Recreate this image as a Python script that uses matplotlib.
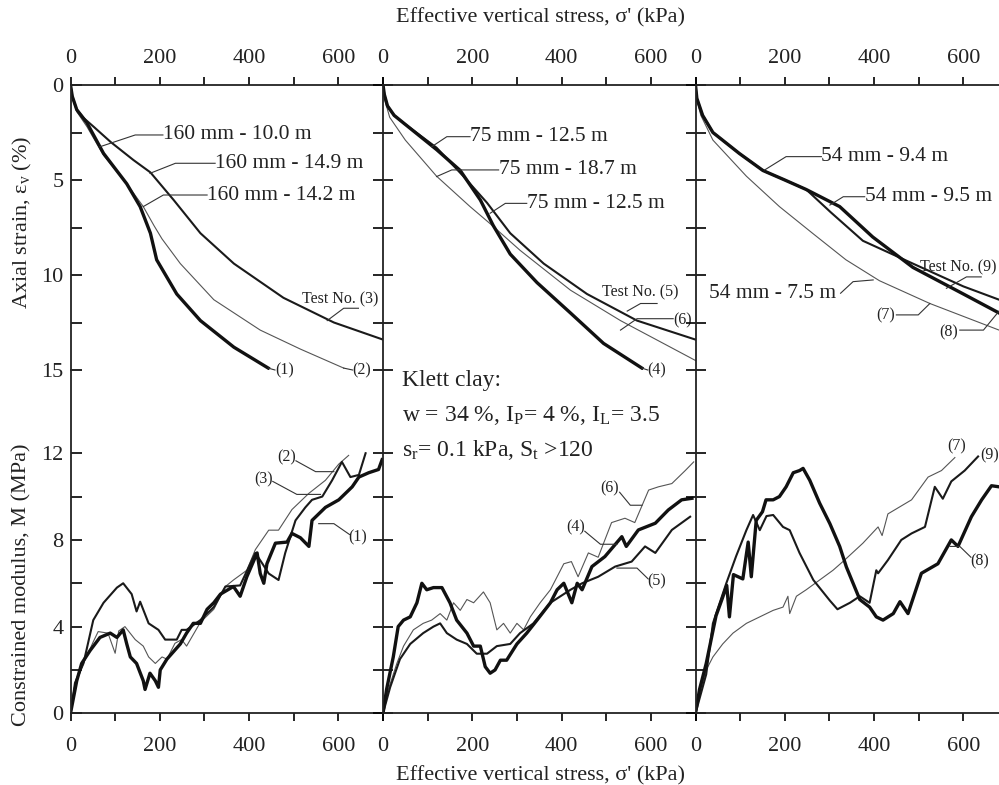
"""Axial strain and constrained modulus vs effective vertical stress (Klett clay)."""

import matplotlib
matplotlib.use("Agg")
import matplotlib.pyplot as plt
from matplotlib.ticker import MultipleLocator

plt.rcParams["font.family"] = ["Liberation Serif", "DejaVu Serif"]
plt.rcParams["mathtext.fontset"] = "custom"
plt.rcParams["mathtext.rm"] = "Liberation Serif"
plt.rcParams["mathtext.it"] = "Liberation Serif:italic"

# ---- strain curves (sigma' kPa, axial strain %) ----
s1 = [0, 4, 14, 37, 74, 126, 156, 179, 193, 238, 291, 366, 443]
e1 = [0, 0.6, 1.3, 2.0, 3.6, 5.2, 6.4, 7.8, 9.2, 11.0, 12.4, 13.8, 14.9]
s2 = [0, 4, 14, 37, 74, 126, 163, 187, 205, 246, 321, 425, 515, 612]
e2 = [0, 0.6, 1.4, 2.2, 3.7, 5.2, 6.4, 7.4, 8.1, 9.4, 11.3, 12.9, 13.9, 14.9]
s3 = [0, 4, 14, 30, 52, 90, 141, 179, 231, 291, 366, 477, 590, 700]
e3 = [0, 0.6, 1.3, 1.75, 2.2, 3.0, 3.95, 4.6, 6.05, 7.8, 9.4, 11.2, 12.5, 13.4]

s4 = [0, 3, 10, 25, 46, 120, 173, 218, 247, 285, 345, 420, 494, 580]
e4 = [0, 0.5, 1.1, 1.6, 2.0, 3.4, 4.5, 6.05, 7.4, 8.9, 10.4, 12.0, 13.6, 14.9]
s5 = [0, 3, 10, 25, 46, 120, 180, 233, 285, 360, 457, 569, 700]
e5 = [0, 0.5, 1.1, 1.6, 2.0, 3.3, 4.8, 6.2, 7.8, 9.4, 11.0, 12.4, 13.4]
s6 = [0, 4, 15, 50, 120, 195, 240, 307, 420, 532, 644, 700]
e6 = [0, 0.8, 1.7, 2.9, 4.8, 6.4, 7.3, 8.7, 10.8, 12.4, 13.8, 14.5]

s7 = [0, 3, 12, 39, 114, 188, 262, 337, 412, 525, 680]
e7 = [0, 0.8, 1.6, 2.9, 4.8, 6.4, 7.8, 9.2, 10.3, 11.5, 12.9]
s8 = [0, 3, 16, 39, 98, 151, 200, 248, 323, 397, 487, 600, 680]
e8 = [0, 0.7, 1.6, 2.5, 3.6, 4.5, 5.0, 5.5, 6.4, 8.0, 9.6, 11.0, 12.0]
s9 = [0, 3, 16, 39, 98, 151, 200, 248, 303, 375, 487, 600, 680]
e9 = [0, 0.7, 1.6, 2.5, 3.6, 4.5, 5.0, 5.5, 6.7, 8.2, 9.4, 10.6, 11.3]

# ---- constrained modulus curves (sigma' kPa, M MPa) ----
ms1 = [0, 14, 25, 44, 66, 89, 104, 118, 126, 134, 148, 163, 167, 178, 190, 197,
       201, 216, 246, 260, 275, 291, 306, 321, 336, 365, 380, 395, 418, 425, 433,
       440, 459, 485, 496, 515, 534, 541, 571, 601, 631, 646, 668, 690, 698]
m1 = [0, 1.5, 2.3, 2.9, 3.5, 3.7, 3.5, 3.85, 3.2, 2.6, 2.3, 1.5, 1.1, 1.85, 1.5,
      1.2, 2.0, 2.5, 3.2, 3.7, 4.15, 4.15, 4.8, 5.1, 5.5, 5.85, 5.4, 6.3, 7.4,
      6.45, 6.0, 6.9, 7.85, 7.9, 8.3, 8.1, 7.7, 8.9, 9.5, 9.85, 10.45, 10.9,
      11.1, 11.25, 11.7]
ms2 = [0, 10, 29, 51, 62, 84, 100, 108, 122, 145, 163, 175, 190, 205, 216, 234,
       249, 260, 291, 321, 347, 365, 395, 414, 444, 466, 496, 534, 571, 601, 623]
m2 = [0, 1.3, 2.3, 3.3, 3.77, 3.7, 2.77, 3.8, 4.0, 3.4, 3.1, 2.6, 2.3, 2.6, 2.5,
      3.23, 3.4, 3.1, 4.2, 4.8, 5.85, 6.15, 6.6, 7.55, 8.45, 8.45, 9.4, 10.15,
      10.75, 11.5, 11.9]
ms3 = [0, 10, 29, 51, 74, 104, 118, 137, 148, 156, 175, 197, 212, 238, 249, 260,
       291, 321, 347, 380, 414, 430, 444, 466, 481, 504, 526, 541, 564, 586, 608,
       627, 646, 661]
m3 = [0, 1.4, 2.3, 4.3, 5.1, 5.8, 6.0, 5.5, 4.7, 5.15, 4.15, 3.85, 3.4, 3.4,
      3.85, 3.85, 4.3, 4.9, 5.85, 5.9, 7.4, 6.9, 6.45, 6.15, 7.4, 8.9, 9.5, 9.85,
      10.0, 10.75, 11.6, 10.9, 11.0, 12.0]

ms4 = [0, 8, 23, 34, 46, 61, 76, 87, 98, 113, 132, 150, 165, 188, 203, 218, 229,
       240, 251, 263, 277, 300, 322, 345, 375, 390, 405, 423, 435, 446, 468, 497,
       535, 545, 572, 610, 639, 669, 692]
m4 = [0, 1.1, 2.6, 4.0, 4.3, 4.45, 5.1, 6.0, 5.7, 5.8, 5.8, 5.1, 4.3, 3.7, 3.1,
      3.1, 2.15, 1.85, 2.0, 2.45, 2.45, 3.2, 3.7, 4.3, 5.1, 5.7, 6.0, 5.1, 6.0,
      5.7, 6.77, 7.23, 8.15, 7.7, 8.46, 8.77, 9.38, 9.85, 9.92]
ms5 = [0, 16, 38, 61, 90, 113, 128, 143, 165, 188, 210, 233, 255, 285, 307, 337,
       375, 420, 446, 482, 520, 557, 587, 610, 647, 688]
m5 = [0, 1.2, 2.5, 3.2, 3.7, 4.0, 4.15, 3.7, 3.4, 3.2, 2.75, 2.75, 3.1, 3.2, 3.7,
      4.15, 5.1, 5.7, 6.0, 6.3, 6.77, 7.0, 7.7, 7.4, 8.46, 9.07]
ms6 = [0, 12, 31, 46, 68, 90, 109, 128, 143, 158, 173, 188, 203, 225, 240, 255,
       270, 285, 300, 315, 330, 352, 375, 405, 422, 437, 460, 482, 512, 542, 564,
       595, 617, 647, 677, 696]
m6 = [0, 1.1, 2.3, 3.1, 3.85, 4.15, 4.3, 4.6, 4.3, 5.1, 4.75, 5.25, 5.1, 5.6,
      5.1, 3.85, 4.15, 3.7, 4.15, 3.85, 4.45, 5.1, 5.7, 6.9, 7.0, 6.3, 7.4, 7.2,
      8.8, 9.0, 8.8, 10.3, 10.45, 10.6, 11.2, 11.6]

ms7 = [0, 9, 24, 39, 61, 84, 114, 144, 174, 196, 207, 211, 226, 248, 278, 308,
       334, 375, 409, 418, 431, 484, 521, 551, 581]
m7 = [0, 0.9, 2.0, 2.6, 3.2, 3.7, 4.15, 4.45, 4.75, 4.9, 5.4, 4.6, 5.4, 5.7,
      6.15, 6.6, 7.07, 7.85, 8.6, 8.2, 9.2, 9.85, 10.9, 11.2, 11.8]
ms8 = [0, 9, 24, 46, 60, 70, 76, 85, 106, 118, 125, 136, 150, 158, 174, 188,
       203, 219, 233, 241, 256, 278, 301, 323, 338, 353, 368, 390, 405, 420, 443,
       458, 476, 506, 543, 573, 588, 618, 641, 663, 680]
m8 = [0, 1.1, 2.3, 4.5, 5.3, 5.9, 4.45, 6.4, 6.2, 7.9, 6.3, 8.9, 9.3, 9.85,
      9.85, 10.0, 10.45, 11.1, 11.2, 11.3, 10.75, 9.7, 8.75, 7.7, 6.75, 6.0,
      5.25, 4.9, 4.45, 4.3, 4.6, 5.15, 4.6, 6.46, 6.9, 8.0, 7.7, 9.07, 9.85,
      10.5, 10.45]
ms9 = [0, 24, 39, 69, 91, 114, 129, 144, 159, 174, 196, 211, 233, 264, 301, 318,
       346, 368, 390, 405, 409, 431, 461, 484, 514, 536, 554, 573, 603, 633]
m9 = [0, 1.8, 4.15, 6.0, 7.25, 8.45, 9.15, 8.45, 9.1, 9.15, 8.6, 8.45, 7.4,
      6.15, 5.2, 4.8, 5.1, 5.4, 5.1, 6.6, 6.46, 7.07, 8.0, 8.3, 8.6, 10.45, 9.9,
      10.7, 11.2, 11.85]

THICK = dict(color="#111111", lw=2.4, solid_joinstyle="round")
MED = dict(color="#1a1a1a", lw=1.5, solid_joinstyle="round")
THIN = dict(color="#555555", lw=0.8)
LEAD = dict(color="#333333", lw=0.8, clip_on=False)
TXT = "#222222"
FS_LAB = 15.5   # curve labels
FS_NUM = 11.5   # (n) labels
FS_AX = 16      # axis titles / tick labels

W, H = 999, 785
COLS = [70.5, 383.0, 695.5]
CW = 312.5


def rect(x0, y0, x1, y1):
    return [x0 / W, 1 - y1 / H, (x1 - x0) / W, (y1 - y0) / H]


def style_axes(ax, first, top):
    ax.set_xlim(0, 700)
    ax.xaxis.set_major_locator(MultipleLocator(200))
    ax.xaxis.set_minor_locator(MultipleLocator(100))
    for sp in ax.spines.values():
        sp.set_linewidth(1.3)
        sp.set_color("#222222")
    ax.spines["right"].set_visible(False)
    if top:
        ax.spines["bottom"].set_visible(False)
        ax.xaxis.tick_top()
        ax.tick_params(axis="x", which="both", top=True, bottom=False,
                       direction="out", length=6, width=1.2, pad=6,
                       labelsize=FS_AX, labelcolor=TXT)
    else:
        ax.spines["top"].set_visible(False)
        ax.tick_params(axis="x", which="both", direction="out", length=6,
                       width=1.2, pad=11, labelsize=FS_AX, labelcolor=TXT)
    if first:
        ax.tick_params(axis="y", which="both", direction="in", length=8,
                       width=1.2, pad=5, labelsize=FS_AX, labelcolor=TXT)
    else:
        ax.tick_params(axis="y", which="both", direction="inout", length=14,
                       width=1.2, labelleft=False)
    ax.patch.set_alpha(0)


def leader(ax, xs, ys):
    ax.plot(xs, ys, **LEAD)


def label(ax, x, y, s, size=FS_LAB, **kw):
    ax.text(x, y, s, fontsize=size, color=TXT, va="center", **kw)


fig = plt.figure(figsize=(9.99, 7.85), dpi=100)

tops, bots = [], []
for i, x0 in enumerate(COLS):
    at = fig.add_axes(rect(x0, 85, x0 + CW, 370))
    at.set_ylim(15, 0)
    at.yaxis.set_major_locator(MultipleLocator(5))
    at.yaxis.set_minor_locator(MultipleLocator(2.5))
    style_axes(at, i == 0, True)
    ab = fig.add_axes(rect(x0, 370, x0 + CW, 713.3))
    ab.set_ylim(0, 15.84)
    ab.set_yticks([0, 4, 8, 12])
    ab.set_yticks([2, 6, 10], minor=True)
    style_axes(ab, i == 0, False)
    tops.append(at)
    bots.append(ab)

# ---- top row ----
at = tops[0]
at.plot(s2, e2, **THIN)
at.plot(s3, e3, **MED)
at.plot(s1, e1, **THICK)
label(at, 207, 2.63, "160 mm - 10.0 m")
leader(at, [207, 145, 66], [2.63, 2.63, 3.25])
label(at, 324, 4.12, "160 mm - 14.9 m")
leader(at, [324, 235, 178], [4.12, 4.12, 4.65])
label(at, 306, 5.79, "160 mm - 14.2 m")
leader(at, [306, 208, 163], [5.79, 5.79, 6.4])
label(at, 605, 11.3, "Test No. (3)", FS_NUM, ha="center")
leader(at, [645, 612, 575], [11.75, 11.75, 12.4])
label(at, 458, 15.0, "(1)", FS_NUM)
leader(at, [443, 458], [14.9, 15.0])
label(at, 632, 15.0, "(2)", FS_NUM)
leader(at, [612, 632], [14.9, 15.0])

at = tops[1]
at.plot(s6, e6, **THIN)
at.plot(s5, e5, **MED)
at.plot(s4, e4, **THICK)
label(at, 195, 2.72, "75 mm - 12.5 m")
leader(at, [195, 143, 109], [2.72, 2.72, 3.25])
label(at, 259, 4.47, "75 mm - 18.7 m")
leader(at, [259, 154, 120], [4.47, 4.47, 4.82])
label(at, 322, 6.23, "75 mm - 12.5 m")
leader(at, [322, 274, 240], [6.23, 6.23, 6.75])
label(at, 577, 10.9, "Test No. (5)", FS_NUM, ha="center")
leader(at, [614, 577, 547], [11.5, 11.5, 11.9])
label(at, 651, 12.4, "(6)", FS_NUM)
leader(at, [650, 569, 532], [12.3, 12.3, 12.9])
label(at, 593, 15.0, "(4)", FS_NUM)
leader(at, [580, 593], [14.9, 15.0])

at = tops[2]
at.plot(s7, e7, **THIN)
at.plot(s9, e9, **MED)
at.plot(s8, e8, **THICK)
label(at, 282, 3.77, "54 mm - 9.4 m")
leader(at, [282, 203, 155], [3.77, 3.77, 4.47])
label(at, 379, 5.88, "54 mm - 9.5 m")
leader(at, [379, 331, 301], [5.88, 5.88, 6.32])
label(at, 31, 10.96, "54 mm - 7.5 m")
leader(at, [325, 353, 398], [10.96, 10.35, 10.26])
label(at, 503, 9.6, "Test No. (9)", FS_NUM)
leader(at, [640, 607, 562], [10.1, 10.1, 10.7])
label(at, 447, 12.15, "(7)", FS_NUM, ha="right")
leader(at, [450, 499, 525], [12.1, 12.1, 11.5])
label(at, 589, 13.0, "(8)", FS_NUM, ha="right")
leader(at, [592, 645, 680], [12.9, 12.9, 11.9])

# ---- bottom row ----
ab = bots[0]
ab.plot(ms2, m2, **THIN)
ab.plot(ms3, m3, **MED)
ab.plot(ms1, m1, **THICK)
label(ab, 485, 11.8, "(2)", FS_NUM, ha="center")
leader(ab, [505, 549, 590], [11.65, 11.15, 11.15])
label(ab, 433, 10.8, "(3)", FS_NUM, ha="center")
leader(ab, [453, 507, 560], [10.7, 10.1, 10.1])
label(ab, 644, 8.1, "(1)", FS_NUM, ha="center")
leader(ab, [625, 590, 556], [8.25, 8.75, 8.75])

ab = bots[1]
ab.plot(ms6, m6, **THIN)
ab.plot(ms5, m5, **MED)
ab.plot(ms4, m4, **THICK)
label(ab, 508, 10.4, "(6)", FS_NUM, ha="center")
leader(ab, [530, 554, 580], [10.2, 9.6, 9.6])
label(ab, 431, 8.6, "(4)", FS_NUM, ha="center")
leader(ab, [452, 487, 524], [8.4, 7.8, 7.8])
label(ab, 614, 6.1, "(5)", FS_NUM, ha="center")
leader(ab, [594, 569, 524], [6.2, 6.7, 6.7])
label(ab, 42, 15.35, "Klett clay:", 17)
label(ab, 42, 13.75, r"w = 34 %, I$_\mathrm{P}$= 4 %, I$_\mathrm{L}$= 3.5", 17)
label(ab, 42, 12.15, r"s$_\mathrm{r}$= 0.1 kPa, S$_\mathrm{t}$ >120", 17)

ab = bots[2]
ab.plot(ms7, m7, **THIN)
ab.plot(ms9, m9, **MED)
ab.plot(ms8, m8, **THICK)
label(ab, 585, 12.3, "(7)", FS_NUM, ha="center")
label(ab, 638, 11.9, "(9)", FS_NUM)
label(ab, 637, 7.0, "(8)", FS_NUM, ha="center")
leader(ab, [617, 592, 570], [7.2, 7.7, 7.7])

# ---- axis titles ----
fig.text(540 / W, 1 - 18 / H, "Effective vertical stress, σ' (kPa)",
         fontsize=FS_AX, color=TXT, ha="center", va="center")
fig.text(540 / W, 1 - 776 / H, "Effective vertical stress, σ' (kPa)",
         fontsize=FS_AX, color=TXT, ha="center", va="center")
fig.text(22 / W, 1 - 222 / H, r"Axial strain, ε$_\mathrm{v}$ (%)",
         fontsize=FS_AX, color=TXT, ha="center", va="center", rotation=90)
fig.text(22 / W, 1 - 585 / H, "Constrained modulus, M (MPa)",
         fontsize=FS_AX, color=TXT, ha="center", va="center", rotation=90)

fig.savefig("out.png", dpi=100)
plt.close(fig)
